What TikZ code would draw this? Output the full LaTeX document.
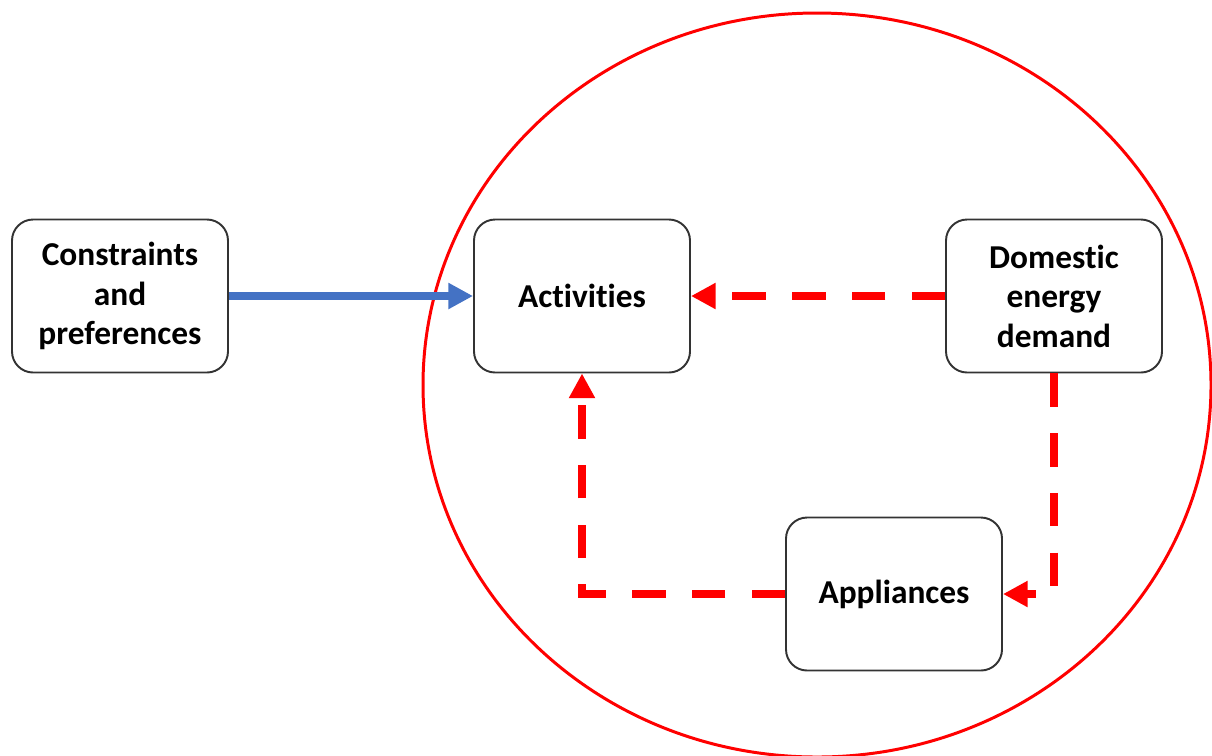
\documentclass[tikz,border=0pt]{standalone}
\usepackage{fontspec}
\setmainfont[Ligatures={NoCommon}]{Carlito}
\usetikzlibrary{arrows.meta}

\begin{document}
\begin{tikzpicture}[x=0.02cm, y=-0.02cm,
  box/.style={draw=black!80, line width=1.1pt, rounded corners=12pt,
    minimum width=216*0.02cm, minimum height=153*0.02cm, align=center,
    font=\fontsize{19}{22.5}\selectfont\bfseries, inner sep=0pt},
  bluearrow/.style={line width=4.5pt, color={rgb,255:red,68;green,114;blue,196},
    -{Triangle[length=14pt,width=14pt]}},
  redarrow/.style={line width=4.5pt, red, dash pattern=on 19pt off 15pt,
    -{Triangle[length=14pt,width=14pt]}}]

  \clip (0,0) rectangle (1212,755);
  \useasboundingbox (0,0) rectangle (1212,755);

  \draw[red, line width=1.7pt] (817,385) ellipse [x radius=394, y radius=372];

  \node[box] (constraints) at (120,296) {Constraints\\and\\preferences};
  \node[box] (activities) at (582,296) {Activities};
  \node[box] (demand) at (1054,296) {Domestic\\energy\\demand};
  \node[box] (appliances) at (894,594) {Appliances};

  \draw[bluearrow] (constraints.east) -- (activities.west);
  \draw[redarrow] (demand.west) -- (activities.east);
  \draw[redarrow] (demand.south) |- (appliances.east);
  \draw[redarrow] (appliances.west) -| (activities.south);
\end{tikzpicture}
\end{document}
